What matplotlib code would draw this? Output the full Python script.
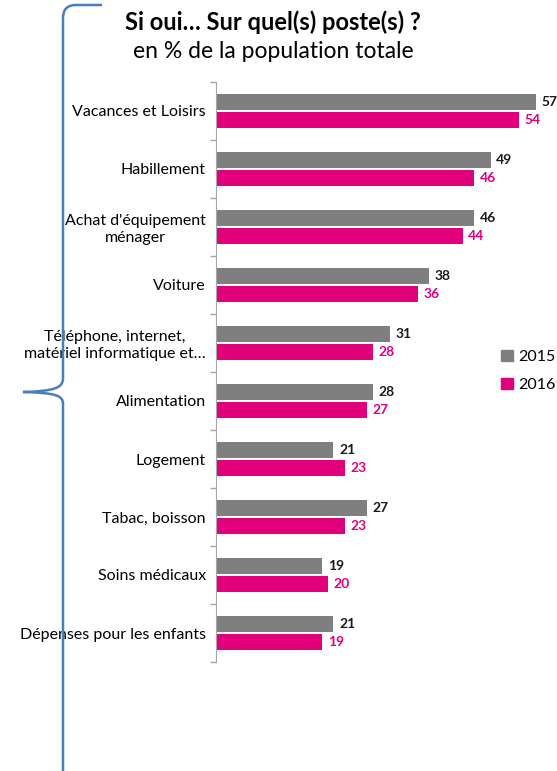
import numpy as np
import matplotlib
matplotlib.use("Agg")
import matplotlib.pyplot as plt
from matplotlib.path import Path
from matplotlib.patches import PathPatch, Patch

categories = [
    "Vacances et Loisirs",
    "Habillement",
    "Achat d'équipement\nménager",
    "Voiture",
    "Téléphone, internet,\nmatériel informatique et…",
    "Alimentation",
    "Logement",
    "Tabac, boisson",
    "Soins médicaux",
    "Dépenses pour les enfants",
]
values_2015 = [57, 49, 46, 38, 31, 28, 21, 27, 19, 21]
values_2016 = [54, 46, 44, 36, 28, 27, 23, 23, 20, 19]
series_labels = ["2015", "2016"]

GRAY = "#7f7f7f"
PINK = "#e2007a"
BLUE = "#4a7ebb"

plt.rcParams["font.family"] = ["Lato", "DejaVu Sans"]

W, H = 557, 771
fig = plt.figure(figsize=(W / 100, H / 100), dpi=100)
ax = fig.add_axes([215.5 / W, 1 - 662 / H, 337 / W, 580 / H])

y = np.arange(len(categories))
bh = 0.26
off = 0.155
ax.barh(y - off, values_2015, height=bh, color=GRAY, label=series_labels[0])
ax.barh(y + off, values_2016, height=bh, color=PINK, label=series_labels[1])

for yi, v in zip(y, values_2015):
    ax.annotate(str(v), (v, yi - off), xytext=(4, 0), textcoords="offset points",
                va="center", ha="left", fontsize=10, fontweight="bold", color="#1a1a1a")
for yi, v in zip(y, values_2016):
    ax.annotate(str(v), (v, yi + off), xytext=(4, 0), textcoords="offset points",
                va="center", ha="left", fontsize=10, fontweight="bold", color=PINK)

ax.set_xlim(0, 60)
ax.set_ylim(len(categories) - 0.5, -0.5)
ax.set_yticks(y)
ax.set_yticklabels(categories, fontsize=11.5, multialignment="center")
ax.set_yticks(np.arange(-0.5, len(categories), 1), minor=True)
ax.tick_params(axis="y", which="major", length=0, pad=7)
ax.tick_params(axis="y", which="minor", length=4, color="#a6a6a6", width=1)
ax.set_xticks([])
for s in ["top", "right", "bottom"]:
    ax.spines[s].set_visible(False)
ax.spines["left"].set_color("#a6a6a6")

fig.legend(handles=[Patch(color=GRAY), Patch(color=PINK)], labels=series_labels,
           loc="center left", bbox_to_anchor=(487 / W, 1 - 371 / H), frameon=False,
           fontsize=11.5, handlelength=0.7, handleheight=0.7, handletextpad=0.35,
           labelspacing=0.85)

fig.text(273 / W, 1 - 22 / H, "Si oui… Sur quel(s) poste(s) ?", ha="center", va="center",
         fontsize=17, fontweight="bold")
fig.text(273 / W, 1 - 52 / H, "en % de la population totale", ha="center", va="center",
         fontsize=16.5)

# brace on the left, drawn in pixel coordinates
bx = fig.add_axes([0, 0, 1, 1], zorder=5)
bx.set_xlim(0, W)
bx.set_ylim(H, 0)
bx.axis("off")
bx.patch.set_alpha(0)
verts = [(102, 5), (76, 5), (63, 5), (63, 18), (63, 378),
         (63, 388), (55, 391), (23, 392),
         (55, 393), (63, 395), (63, 404), (63, 775)]
codes = [Path.MOVETO, Path.LINETO, Path.CURVE3, Path.CURVE3, Path.LINETO,
         Path.CURVE4, Path.CURVE4, Path.CURVE4,
         Path.CURVE4, Path.CURVE4, Path.CURVE4, Path.LINETO]
bx.add_patch(PathPatch(Path(verts, codes), fill=False, edgecolor=BLUE, lw=1.8))

fig.savefig("out.png", dpi=100)
